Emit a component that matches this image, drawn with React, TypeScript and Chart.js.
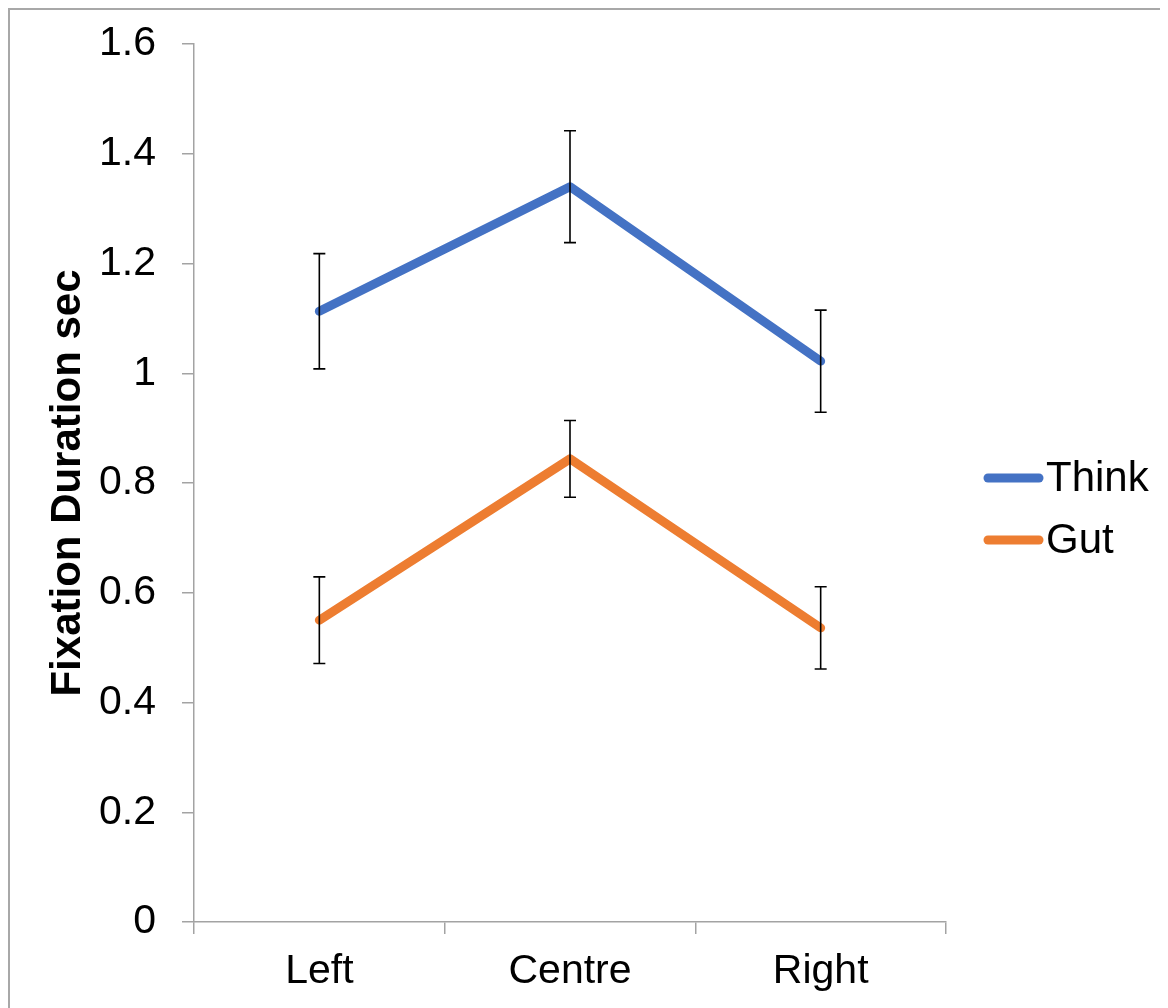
import React, { useEffect, useRef } from "react";
import { Chart, registerables } from "chart.js";

Chart.register(...registerables);

const categories = ["Left", "Centre", "Right"];
const thinkValues = [1.113, 1.34, 1.022];
const thinkErrors = [0.105, 0.102, 0.093];
const gutValues = [0.55, 0.844, 0.536];
const gutErrors = [0.079, 0.07, 0.075];
const yTickLabels = ["0", "0.2", "0.4", "0.6", "0.8", "1", "1.2", "1.4", "1.6"];
const seriesNames = ["Think", "Gut"];
const seriesColors = ["#4472C4", "#ED7D31"];
const yTitle = "Fixation Duration sec";

const FONT = "'Liberation Sans', Arial, Helvetica, sans-serif";
const AXIS_GRAY = "#a3a3a3";

const errorBarPlugin = {
  id: "errorBars",
  afterDatasetsDraw(chart: any) {
    const ctx = chart.ctx;
    const yScale = chart.scales.y;
    const errs = [thinkErrors, gutErrors];
    const vals = [thinkValues, gutValues];
    ctx.save();
    ctx.strokeStyle = "#000";
    ctx.lineWidth = 1.6;
    chart.data.datasets.forEach((_: any, i: number) => {
      const meta = chart.getDatasetMeta(i);
      meta.data.forEach((pt: any, j: number) => {
        const x = pt.x;
        const top = yScale.getPixelForValue(vals[i][j] + errs[i][j]);
        const bot = yScale.getPixelForValue(vals[i][j] - errs[i][j]);
        ctx.beginPath();
        ctx.moveTo(x, top);
        ctx.lineTo(x, bot);
        ctx.moveTo(x - 6, top);
        ctx.lineTo(x + 6, top);
        ctx.moveTo(x - 6, bot);
        ctx.lineTo(x + 6, bot);
        ctx.stroke();
      });
    });
    ctx.restore();
  },
};

const legendPlugin = {
  id: "customLegend",
  afterDraw(chart: any) {
    const ctx = chart.ctx;
    const area = chart.chartArea;
    const x0 = area.right + 38;
    const ys = [470, 532];
    ctx.save();
    chart.data.datasets.forEach((ds: any, i: number) => {
      const y = ys[i];
      ctx.strokeStyle = ds.borderColor;
      ctx.lineWidth = 9;
      ctx.lineCap = "round";
      ctx.beginPath();
      ctx.moveTo(x0 + 4, y);
      ctx.lineTo(x0 + 55, y);
      ctx.stroke();
      ctx.fillStyle = "#000";
      ctx.font = `42px ${FONT}`;
      ctx.textBaseline = "middle";
      ctx.textAlign = "left";
      ctx.fillText(ds.label, x0 + 62, y + 1);
    });
    ctx.restore();
  },
};

export default function App() {
  const ref = useRef<HTMLCanvasElement | null>(null);

  useEffect(() => {
    if (!ref.current) return;
    const chart = new Chart(ref.current, {
      type: "line",
      data: {
        labels: categories,
        datasets: [
          {
            label: seriesNames[0],
            data: thinkValues,
            borderColor: seriesColors[0],
            backgroundColor: seriesColors[0],
            borderWidth: 9,
            pointRadius: 0,
            borderCapStyle: "round",
            borderJoinStyle: "round",
            tension: 0,
          },
          {
            label: seriesNames[1],
            data: gutValues,
            borderColor: seriesColors[1],
            backgroundColor: seriesColors[1],
            borderWidth: 9,
            pointRadius: 0,
            borderCapStyle: "round",
            borderJoinStyle: "round",
            tension: 0,
          },
        ],
      },
      options: {
        animation: false,
        responsive: false,
        maintainAspectRatio: false,
        layout: { padding: { top: 36, right: 222, bottom: 0, left: 0 } },
        plugins: {
          legend: { display: false },
          tooltip: { enabled: false },
        },
        scales: {
          x: {
            type: "category",
            offset: true,
            grid: {
              display: true,
              offset: true,
              drawOnChartArea: false,
              drawTicks: true,
              tickLength: 12,
              color: AXIS_GRAY,
              lineWidth: 1.5,
            },
            border: { display: true, color: AXIS_GRAY, width: 1.5 },
            ticks: {
              color: "#000",
              font: { family: FONT, size: 41 },
              padding: 13,
              maxRotation: 0,
            },
            afterFit: (scale: any) => {
              scale.height = 86;
              scale.paddingLeft = 0;
              scale.paddingRight = 0;
            },
          },
          y: {
            min: 0,
            max: 1.6,
            grid: {
              display: true,
              drawOnChartArea: false,
              drawTicks: true,
              tickLength: 12,
              color: AXIS_GRAY,
              lineWidth: 1.5,
            },
            border: { display: true, color: AXIS_GRAY, width: 1.5 },
            ticks: {
              stepSize: 0.2,
              color: "#000",
              font: { family: FONT, size: 41 },
              padding: 26,
              callback: (_v: any, i: number) => yTickLabels[i],
            },
            title: {
              display: true,
              text: yTitle,
              color: "#000",
              font: { family: FONT, size: 42, weight: "bold", lineHeight: 1.2 },
              padding: { top: 35, bottom: 0 },
            },
            afterFit: (scale: any) => {
              scale.width = 186;
              scale.paddingTop = 0;
              scale.paddingBottom = 0;
            },
          },
        },
      },
      plugins: [errorBarPlugin, legendPlugin],
    } as any);
    return () => chart.destroy();
  }, []);

  return (
    <div style={{ position: "relative", width: 1160, height: 1000 }}>
      <div
        style={{
          position: "absolute",
          left: 0,
          top: 0,
          width: 1160,
          height: 1000,
          borderTop: "2px solid #a8a8a8",
          borderLeft: "2px solid #a8a8a8",
          boxSizing: "border-box",
        }}
      />
      <canvas
        ref={ref}
        width={1160}
        height={1000}
        style={{ position: "absolute", left: 0, top: 0, width: 1160, height: 1000 }}
      />
    </div>
  );
}
